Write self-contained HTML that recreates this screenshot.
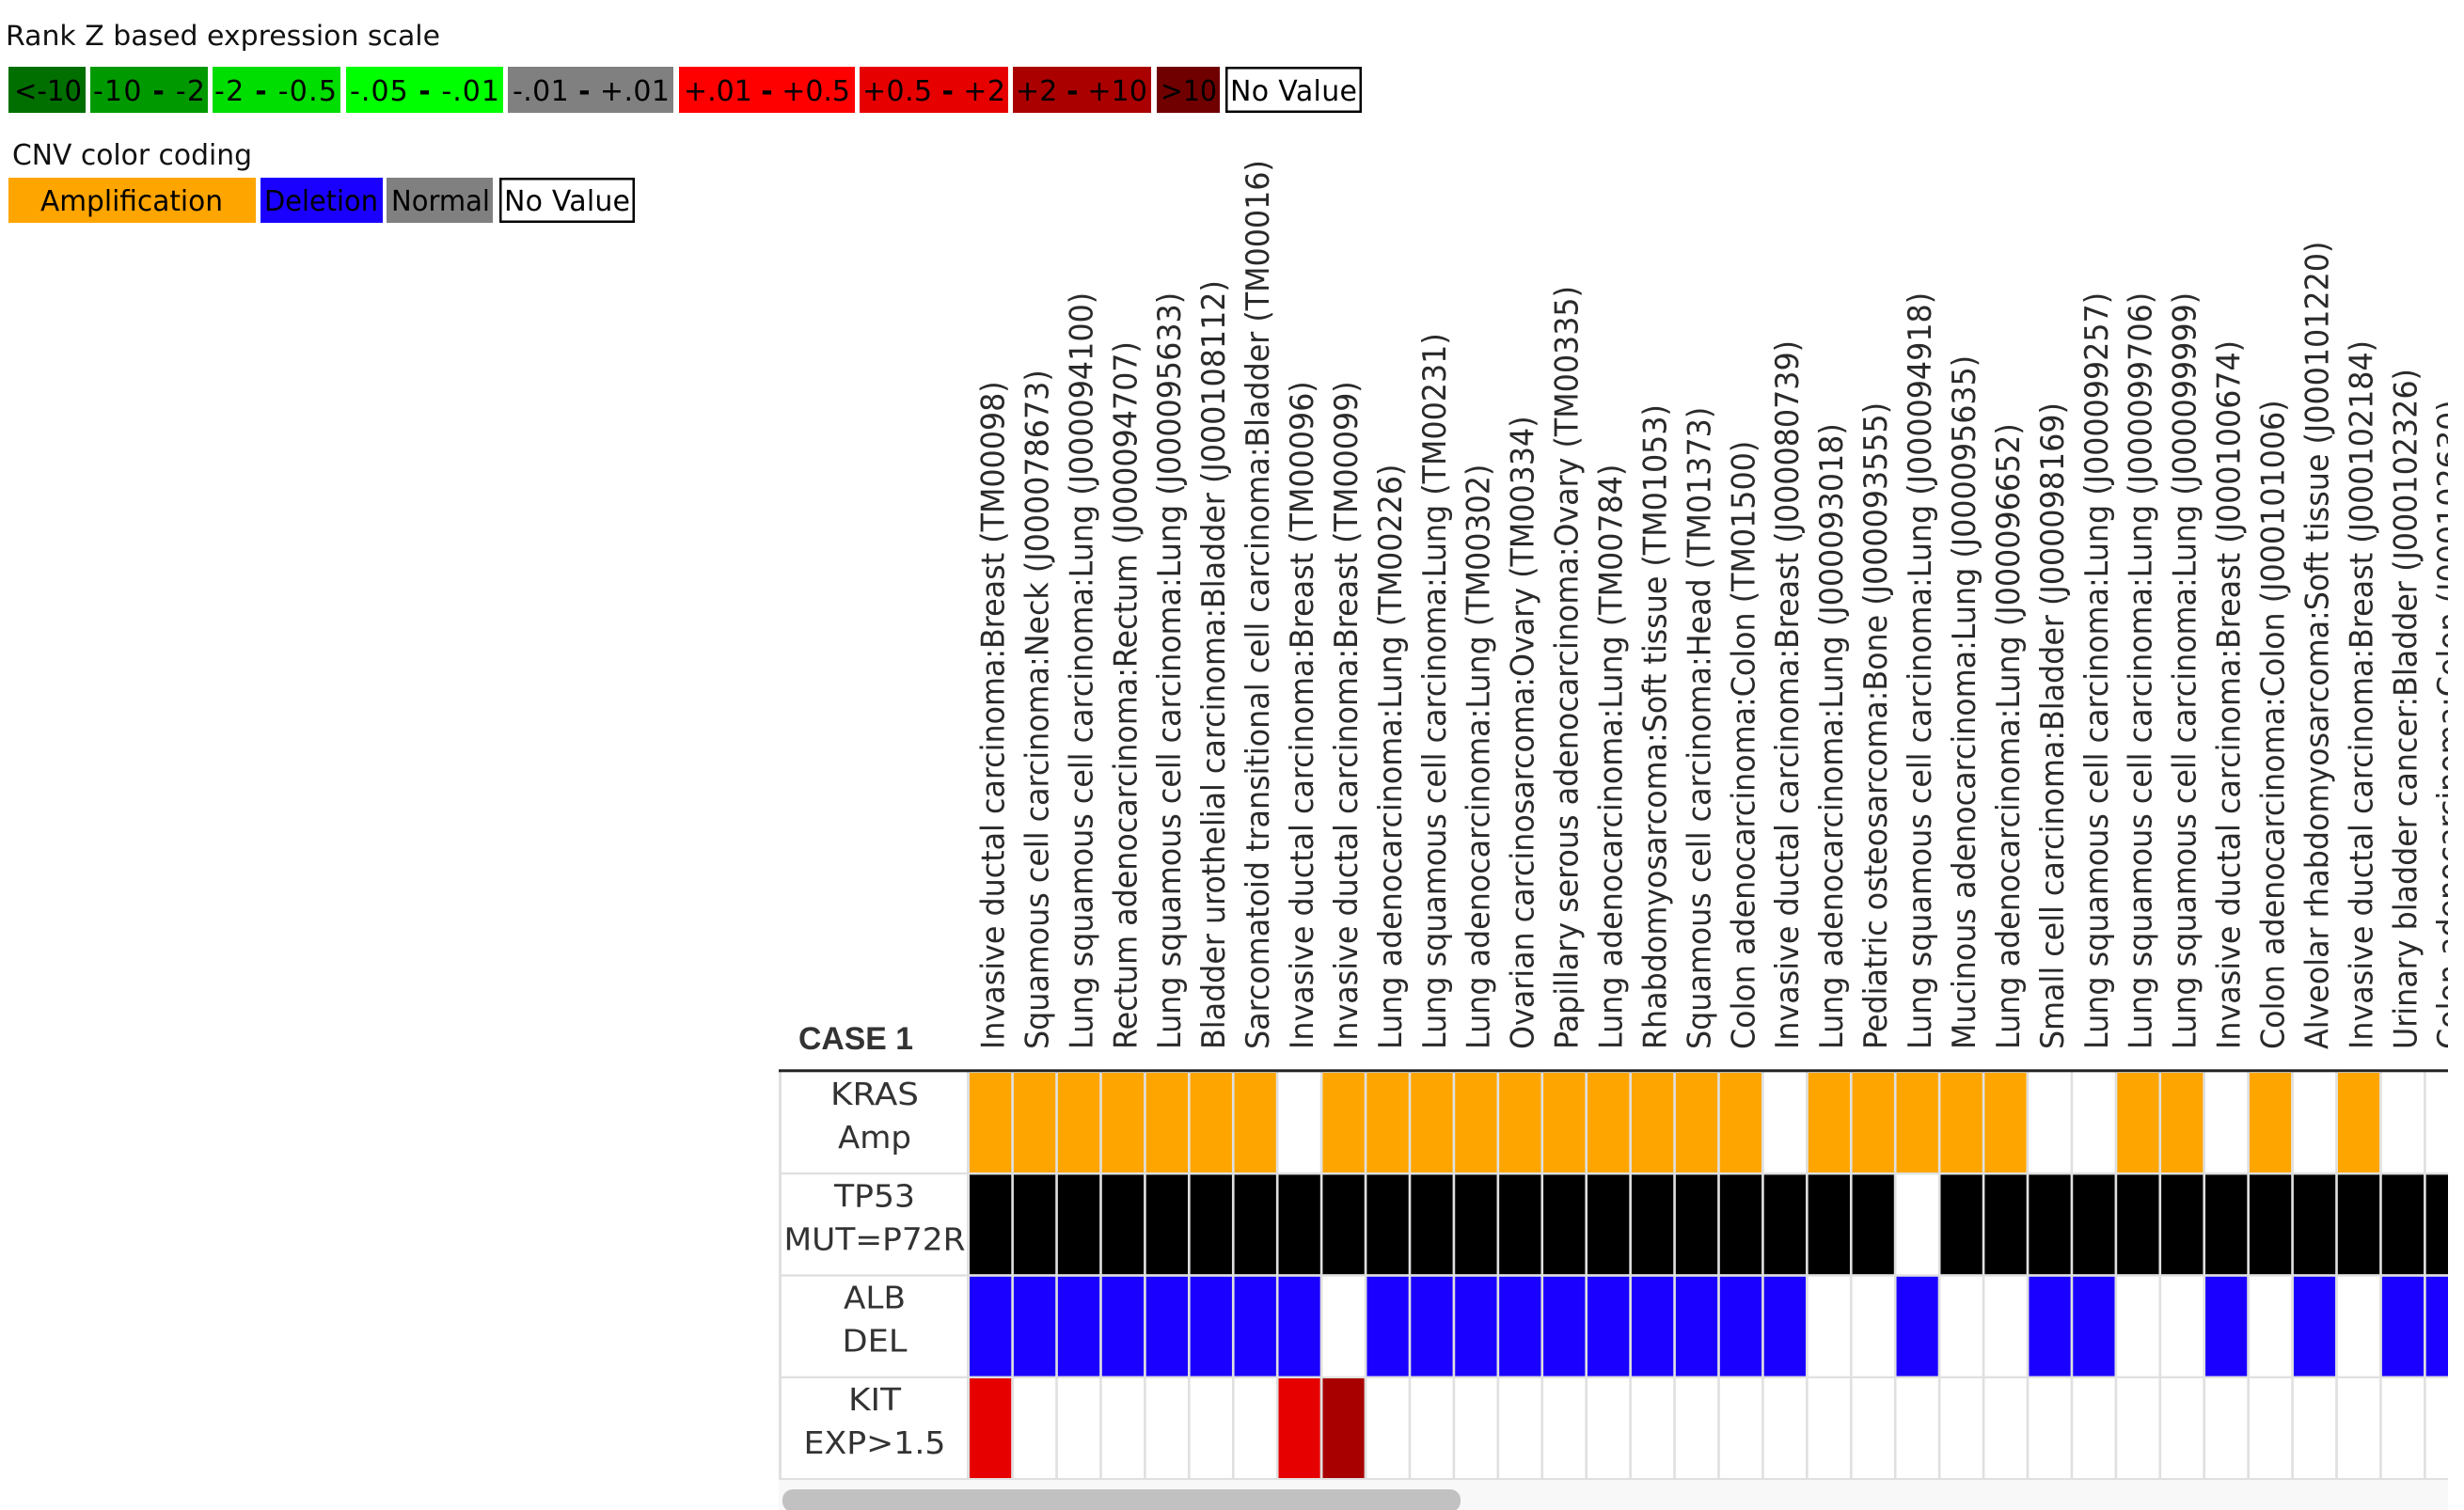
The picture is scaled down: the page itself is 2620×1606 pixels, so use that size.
<!DOCTYPE html>
<html>
<head>
<meta charset="utf-8">
<style>
html,body{margin:0;padding:0;background:#fff;}
svg{display:block;}
.lg{font-family:"DejaVu Sans","Liberation Sans",sans-serif;font-size:30px;fill:#000;}
.tt{font-family:"DejaVu Sans","Liberation Sans",sans-serif;fill:#111;}
.rl{font-family:"DejaVu Sans","Liberation Sans",sans-serif;font-size:33px;fill:#333;}
.cl{font-family:"DejaVu Sans","Liberation Sans",sans-serif;font-size:34px;fill:#2a2a2a;}
.cs{font-family:"Liberation Sans",Arial,sans-serif;font-size:34px;font-weight:bold;fill:#333;}
.b{font-weight:bold;}
</style>
</head>
<body>
<svg xmlns="http://www.w3.org/2000/svg" width="2620" height="1606" viewBox="0 0 2620 1606">
<rect x="0" y="0" width="2620" height="1606" fill="#fff"/>

<!-- Expression legend -->
<text class="tt" x="6" y="48" font-size="29" textLength="462" lengthAdjust="spacingAndGlyphs">Rank Z based expression scale</text>
<rect x="9" y="71" width="82" height="49" fill="#006f00"/>
<rect x="96" y="71" width="125" height="49" fill="#009900"/>
<rect x="226" y="71" width="136" height="49" fill="#00dd00"/>
<rect x="368" y="71" width="167" height="49" fill="#00ff00"/>
<rect x="540" y="71" width="176" height="49" fill="#808080"/>
<rect x="722" y="71" width="187" height="49" fill="#ff0000"/>
<rect x="914" y="71" width="158" height="49" fill="#e60000"/>
<rect x="1077" y="71" width="147" height="49" fill="#aa0000"/>
<rect x="1230" y="71" width="67" height="49" fill="#700000"/>
<rect x="1304.25" y="72.25" width="142.5" height="46.5" fill="#fff" stroke="#000" stroke-width="2.5"/>
<text class="lg" x="15" y="107" textLength="72" lengthAdjust="spacingAndGlyphs">&lt;-10</text>
<text class="lg" x="99" y="107" textLength="119">-10 <tspan class="b">-</tspan> -2</text>
<text class="lg" x="228" y="107" textLength="130">-2 <tspan class="b">-</tspan> -0.5</text>
<text class="lg" x="372" y="107" textLength="159">-.05 <tspan class="b">-</tspan> -.01</text>
<text class="lg" x="545" y="107" textLength="167">-.01 <tspan class="b">-</tspan> +.01</text>
<text class="lg" x="727" y="107" textLength="177">+.01 <tspan class="b">-</tspan> +0.5</text>
<text class="lg" x="917" y="107" textLength="152">+0.5 <tspan class="b">-</tspan> +2</text>
<text class="lg" x="1080" y="107" textLength="140">+2 <tspan class="b">-</tspan> +10</text>
<text class="lg" x="1234" y="107" textLength="60" lengthAdjust="spacingAndGlyphs">&gt;10</text>
<text class="lg" x="1308" y="107" textLength="135">No Value</text>

<!-- CNV legend -->
<text class="tt" x="13" y="175" font-size="30" textLength="255" lengthAdjust="spacingAndGlyphs">CNV color coding</text>
<rect x="9" y="189" width="263" height="48" fill="#ffa500"/>
<rect x="277" y="189" width="130" height="48" fill="#1a00ff"/>
<rect x="411" y="189" width="113" height="48" fill="#808080"/>
<rect x="532.25" y="190.25" width="141.5" height="45.5" fill="#fff" stroke="#000" stroke-width="2.5"/>
<text class="lg" x="43" y="224" textLength="194" lengthAdjust="spacingAndGlyphs">Amplification</text>
<text class="lg" x="281" y="224" textLength="121" lengthAdjust="spacingAndGlyphs">Deletion</text>
<text class="lg" x="416" y="224" textLength="105" lengthAdjust="spacingAndGlyphs">Normal</text>
<text class="lg" x="536" y="224" textLength="134">No Value</text>

<!-- Column labels -->
<g class="cl">
<text transform="translate(1067.5,1116) rotate(-90) scale(0.934,1)">Invasive ductal carcinoma:Breast (TM00098)</text>
<text transform="translate(1114.4,1116) rotate(-90) scale(0.934,1)">Squamous cell carcinoma:Neck (J000078673)</text>
<text transform="translate(1161.4,1116) rotate(-90) scale(0.934,1)">Lung squamous cell carcinoma:Lung (J000094100)</text>
<text transform="translate(1208.3,1116) rotate(-90) scale(0.934,1)">Rectum adenocarcinoma:Rectum (J000094707)</text>
<text transform="translate(1255.2,1116) rotate(-90) scale(0.934,1)">Lung squamous cell carcinoma:Lung (J000095633)</text>
<text transform="translate(1302.2,1116) rotate(-90) scale(0.934,1)">Bladder urothelial carcinoma:Bladder (J000108112)</text>
<text transform="translate(1349.1,1116) rotate(-90) scale(0.934,1)">Sarcomatoid transitional cell carcinoma:Bladder (TM00016)</text>
<text transform="translate(1396.0,1116) rotate(-90) scale(0.934,1)">Invasive ductal carcinoma:Breast (TM00096)</text>
<text transform="translate(1442.9,1116) rotate(-90) scale(0.934,1)">Invasive ductal carcinoma:Breast (TM00099)</text>
<text transform="translate(1489.9,1116) rotate(-90) scale(0.934,1)">Lung adenocarcinoma:Lung (TM00226)</text>
<text transform="translate(1536.8,1116) rotate(-90) scale(0.934,1)">Lung squamous cell carcinoma:Lung (TM00231)</text>
<text transform="translate(1583.7,1116) rotate(-90) scale(0.934,1)">Lung adenocarcinoma:Lung (TM00302)</text>
<text transform="translate(1630.7,1116) rotate(-90) scale(0.934,1)">Ovarian carcinosarcoma:Ovary (TM00334)</text>
<text transform="translate(1677.6,1116) rotate(-90) scale(0.934,1)">Papillary serous adenocarcinoma:Ovary (TM00335)</text>
<text transform="translate(1724.5,1116) rotate(-90) scale(0.934,1)">Lung adenocarcinoma:Lung (TM00784)</text>
<text transform="translate(1771.5,1116) rotate(-90) scale(0.934,1)">Rhabdomyosarcoma:Soft tissue (TM01053)</text>
<text transform="translate(1818.4,1116) rotate(-90) scale(0.934,1)">Squamous cell carcinoma:Head (TM01373)</text>
<text transform="translate(1865.3,1116) rotate(-90) scale(0.934,1)">Colon adenocarcinoma:Colon (TM01500)</text>
<text transform="translate(1912.2,1116) rotate(-90) scale(0.934,1)">Invasive ductal carcinoma:Breast (J000080739)</text>
<text transform="translate(1959.2,1116) rotate(-90) scale(0.934,1)">Lung adenocarcinoma:Lung (J000093018)</text>
<text transform="translate(2006.1,1116) rotate(-90) scale(0.934,1)">Pediatric osteosarcoma:Bone (J000093555)</text>
<text transform="translate(2053.0,1116) rotate(-90) scale(0.934,1)">Lung squamous cell carcinoma:Lung (J000094918)</text>
<text transform="translate(2100.0,1116) rotate(-90) scale(0.934,1)">Mucinous adenocarcinoma:Lung (J000095635)</text>
<text transform="translate(2146.9,1116) rotate(-90) scale(0.934,1)">Lung adenocarcinoma:Lung (J000096652)</text>
<text transform="translate(2193.8,1116) rotate(-90) scale(0.934,1)">Small cell carcinoma:Bladder (J000098169)</text>
<text transform="translate(2240.8,1116) rotate(-90) scale(0.934,1)">Lung squamous cell carcinoma:Lung (J000099257)</text>
<text transform="translate(2287.7,1116) rotate(-90) scale(0.934,1)">Lung squamous cell carcinoma:Lung (J000099706)</text>
<text transform="translate(2334.6,1116) rotate(-90) scale(0.934,1)">Lung squamous cell carcinoma:Lung (J000099999)</text>
<text transform="translate(2381.5,1116) rotate(-90) scale(0.934,1)">Invasive ductal carcinoma:Breast (J000100674)</text>
<text transform="translate(2428.5,1116) rotate(-90) scale(0.934,1)">Colon adenocarcinoma:Colon (J000101006)</text>
<text transform="translate(2475.4,1116) rotate(-90) scale(0.934,1)">Alveolar rhabdomyosarcoma:Soft tissue (J000101220)</text>
<text transform="translate(2522.3,1116) rotate(-90) scale(0.934,1)">Invasive ductal carcinoma:Breast (J000102184)</text>
<text transform="translate(2569.3,1116) rotate(-90) scale(0.934,1)">Urinary bladder cancer:Bladder (J000102326)</text>
<text transform="translate(2616.2,1116) rotate(-90) scale(0.934,1)">Colon adenocarcinoma:Colon (J000102630)</text>
</g>

<!-- CASE 1 -->
<text class="cs" x="849" y="1116" textLength="122" lengthAdjust="spacingAndGlyphs">CASE 1</text>

<!-- Row 1 KRAS Amp (orange) -->
<g fill="#ffa500">
<rect x="1031" y="1141" width="325.88" height="106"/>
<rect x="1406.44" y="1141" width="466.67" height="106"/>
<rect x="1922.67" y="1141" width="232.02" height="106"/>
<rect x="2251.18" y="1141" width="91.23" height="106"/>
<rect x="2391.97" y="1141" width="44.3" height="106"/>
<rect x="2485.83" y="1141" width="44.3" height="106"/>
</g>
<!-- Row 2 TP53 (black) -->
<g fill="#000">
<rect x="1031" y="1249.3" width="982.9" height="106"/>
<rect x="2063.46" y="1249.3" width="560" height="106"/>
</g>
<!-- Row 3 ALB DEL (blue) -->
<g fill="#1a00ff">
<rect x="1031" y="1357.7" width="372.81" height="106"/>
<rect x="1453.37" y="1357.7" width="466.67" height="106"/>
<rect x="2016.53" y="1357.7" width="44.3" height="106"/>
<rect x="2157.32" y="1357.7" width="91.23" height="106"/>
<rect x="2345.04" y="1357.7" width="44.3" height="106"/>
<rect x="2438.9" y="1357.7" width="44.3" height="106"/>
<rect x="2532.76" y="1357.7" width="90" height="106"/>
</g>
<!-- Row 4 KIT EXP -->
<rect x="1031" y="1466" width="44.3" height="106" fill="#e60000"/>
<rect x="1359.51" y="1466" width="44.3" height="106" fill="#e60000"/>
<rect x="1406.44" y="1466" width="44.3" height="106" fill="#a80000"/>

<!-- Grid lines -->
<g fill="#e0e0e0">
<rect x="828" y="1140" width="3" height="434"/>
<rect x="1028" y="1140" width="3" height="434"/>
<rect x="1075.3" y="1140" width="2.63" height="434"/>
<rect x="1122.23" y="1140" width="2.63" height="434"/>
<rect x="1169.16" y="1140" width="2.63" height="434"/>
<rect x="1216.09" y="1140" width="2.63" height="434"/>
<rect x="1263.02" y="1140" width="2.63" height="434"/>
<rect x="1309.95" y="1140" width="2.63" height="434"/>
<rect x="1356.88" y="1140" width="2.63" height="434"/>
<rect x="1403.81" y="1140" width="2.63" height="434"/>
<rect x="1450.74" y="1140" width="2.63" height="434"/>
<rect x="1497.67" y="1140" width="2.63" height="434"/>
<rect x="1544.6" y="1140" width="2.63" height="434"/>
<rect x="1591.53" y="1140" width="2.63" height="434"/>
<rect x="1638.46" y="1140" width="2.63" height="434"/>
<rect x="1685.39" y="1140" width="2.63" height="434"/>
<rect x="1732.32" y="1140" width="2.63" height="434"/>
<rect x="1779.25" y="1140" width="2.63" height="434"/>
<rect x="1826.18" y="1140" width="2.63" height="434"/>
<rect x="1873.11" y="1140" width="2.63" height="434"/>
<rect x="1920.04" y="1140" width="2.63" height="434"/>
<rect x="1966.97" y="1140" width="2.63" height="434"/>
<rect x="2013.9" y="1140" width="2.63" height="434"/>
<rect x="2060.83" y="1140" width="2.63" height="434"/>
<rect x="2107.76" y="1140" width="2.63" height="434"/>
<rect x="2154.69" y="1140" width="2.63" height="434"/>
<rect x="2201.62" y="1140" width="2.63" height="434"/>
<rect x="2248.55" y="1140" width="2.63" height="434"/>
<rect x="2295.48" y="1140" width="2.63" height="434"/>
<rect x="2342.41" y="1140" width="2.63" height="434"/>
<rect x="2389.34" y="1140" width="2.63" height="434"/>
<rect x="2436.27" y="1140" width="2.63" height="434"/>
<rect x="2483.2" y="1140" width="2.63" height="434"/>
<rect x="2530.13" y="1140" width="2.63" height="434"/>
<rect x="2577.06" y="1140" width="2.63" height="434"/>
<rect x="828" y="1247" width="1775" height="2.3"/>
<rect x="828" y="1355.3" width="1775" height="2.4"/>
<rect x="828" y="1463.7" width="1775" height="2.3"/>
<rect x="828" y="1572" width="1775" height="2.2"/>
</g>

<!-- top thick line -->
<rect x="828" y="1137.3" width="1775" height="3" fill="#222"/>

<!-- Row labels -->
<g class="rl" text-anchor="middle">
<text x="930" y="1175" textLength="94" lengthAdjust="spacingAndGlyphs">KRAS</text>
<text x="930" y="1221" textLength="78" lengthAdjust="spacingAndGlyphs">Amp</text>
<text x="930" y="1283.5" textLength="86" lengthAdjust="spacingAndGlyphs">TP53</text>
<text x="930" y="1329.5" textLength="193" lengthAdjust="spacingAndGlyphs">MUT=P72R</text>
<text x="930" y="1391.5" textLength="66" lengthAdjust="spacingAndGlyphs">ALB</text>
<text x="930" y="1437.5" textLength="69" lengthAdjust="spacingAndGlyphs">DEL</text>
<text x="930" y="1500" textLength="56" lengthAdjust="spacingAndGlyphs">KIT</text>
<text x="930" y="1546" textLength="151" lengthAdjust="spacingAndGlyphs">EXP&gt;1.5</text>
</g>

<!-- scrollbar -->
<rect x="828" y="1574.2" width="1775" height="32" fill="#f8f8f8"/>
<rect x="832" y="1584" width="721" height="24" rx="11" ry="11" fill="#c1c1c1"/>

<!-- right clip -->
<rect x="2603" y="0" width="17" height="1606" fill="#fff"/>
</svg>
</body>
</html>
